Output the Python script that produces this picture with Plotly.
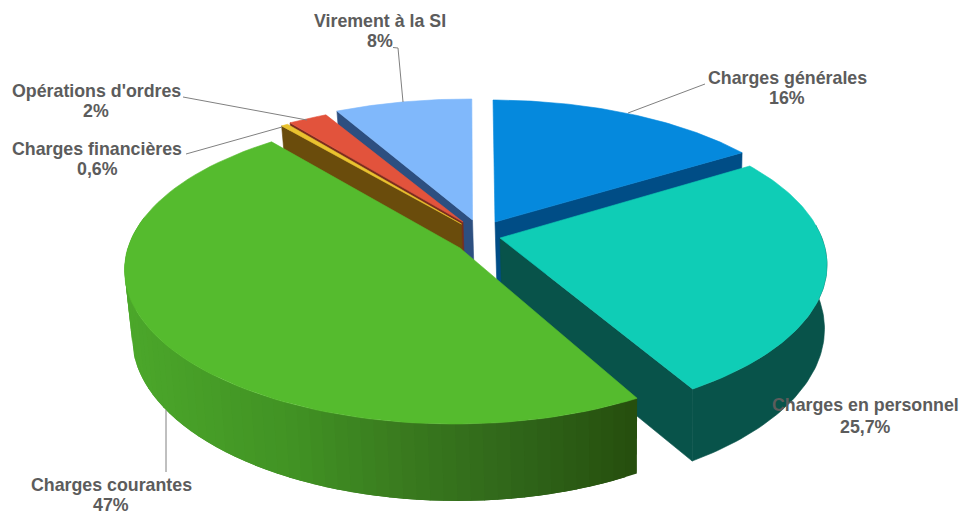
import numpy as np
import plotly.graph_objects as go

# ---- chart data ----
categories = ["Charges générales", "Charges en personnel", "Charges courantes",
              "Charges financières", "Opérations d'ordres", "Virement à la SI"]
values = [16, 25.7, 47, 0.6, 2, 8]
value_labels = ["16%", "25,7%", "47%", "0,6%", "2%", "8%"]

# ---- colours ----
top_colors = ["#0589dd", "#0fcdb6", "#55bb2e", "#e9c32f", "#e2533c", "#80b8fb"]
wall_colors = ["#004d86", "#08534a", "#3f8a22", "#6a4c0c", "#7b2d1e", "#2d4f80"]
label_color = "#5c5c5c"
leader_color = "#808080"
green_stops_x = [125, 300, 400, 520, 637]
green_stops_rgb = [(76, 168, 43), (65, 146, 36), (58, 124, 31), (48, 102, 26), (38, 79, 14)]

# ---- 3D look: one tilted frame for each exploded slice (pixels) ----
RX, RX_BOTTOM = 330, 325
ell_cx = [491, 497, 454.5, 456.5, 457, 468.5]
ell_cy = [250, 265, 270, 248, 247, 245]
ell_ry = [150, 154, 154, 144, 144, 146]
apex_x = [495, 500, 460, 461.5, 463, 472.5]
apex_y = [222, 238, 248, 224, 222, 220]
start_deg = [0.35, 50, 146.4, 328.0, 329.6, 336.5]
span_scale = [0.848, 1.005, 1.056, 0.55, 0.965, 0.83]
DX_BOTTOM, DY_BOTTOM = 2.5, 65
RY_RATIO = 164 / 154

shares = np.array(values) / sum(values) * 360.0


def rim(i, phi_deg, bottom=False):
    p = np.radians(phi_deg)
    if bottom:
        cy_shift = DY_BOTTOM if i != 1 else 64
        return (ell_cx[i] + DX_BOTTOM + RX_BOTTOM * np.sin(p),
                ell_cy[i] + cy_shift + 2 * (i == 2) - ell_ry[i] * RY_RATIO * np.cos(p))
    return ell_cx[i] + RX * np.sin(p), ell_cy[i] - ell_ry[i] * np.cos(p)


def arc(i):
    return np.linspace(start_deg[i], start_deg[i] + shares[i] * span_scale[i], 90)


fig = go.Figure()


def poly(xs, ys, color, width=0.6):
    fig.add_trace(go.Scatter(x=list(xs) + [xs[0]], y=list(ys) + [ys[0]], mode="lines",
                             fill="toself", fillcolor=color,
                             line=dict(color=color, width=width),
                             hoverinfo="skip", showlegend=False))


def top_face(i):
    x, y = rim(i, arc(i))
    poly(np.r_[apex_x[i], x], np.r_[apex_y[i], y], top_colors[i])


def cut_wall(i, phi):
    xt, yt = rim(i, phi)
    xb, yb = rim(i, phi, bottom=True)
    poly([apex_x[i], xt, xb, apex_x[i] + 2], [apex_y[i], yt, yb, apex_y[i] + 68], wall_colors[i])


# Virement à la SI (back)
cut_wall(5, start_deg[5])
top_face(5)
# Opérations d'ordres
cut_wall(4, start_deg[4])
top_face(4)
# Charges financières
cut_wall(3, start_deg[3])
top_face(3)
# Charges générales
cut_wall(0, arc(0)[-1])
top_face(0)
# Charges en personnel
phi = np.linspace(75, arc(1)[-1], 60)
xt, yt = rim(1, phi)
xb, yb = rim(1, phi, bottom=True)
poly(np.r_[xt, xb[::-1]], np.r_[yt, yb[::-1]], wall_colors[1])
cut_wall(1, arc(1)[-1])
top_face(1)
# Charges courantes (front): shaded outer wall drawn in overlapping narrow strips, right to left
edges = np.linspace(start_deg[2], 290, 61)
for a0, a1 in zip(edges[:-1], edges[1:]):
    seg = np.linspace(a0, min(a1 + 2.5, 290), 5)
    xt, yt = rim(2, seg)
    xb, yb = rim(2, seg, bottom=True)
    xm = float(np.mean(np.r_[xt[:2], xb[:2]]))
    rgb = [np.interp(xm, green_stops_x, [c[k] for c in green_stops_rgb]) for k in range(3)]
    poly(np.r_[xt, xb[::-1]], np.r_[yt, yb[::-1]], "rgb(%d,%d,%d)" % tuple(rgb), width=0)
top_face(2)

# ---- leader lines ----
leaders = [((705, 84), (628, 113)),
           ((398, 48), (403, 102)),
           ((183, 97), (307, 120)),
           ((186, 154), (282, 127)),
           ((166, 410), (166, 472))]
for (x0, y0), (x1, y1) in leaders:
    fig.add_trace(go.Scatter(x=[x0, x1], y=[y0, y1], mode="lines",
                             line=dict(color=leader_color, width=1),
                             hoverinfo="skip", showlegend=False))
fig.add_trace(go.Scatter(x=[393, 398], y=[47.5, 48], mode="lines",
                         line=dict(color=leader_color, width=1),
                         hoverinfo="skip", showlegend=False))

# ---- labels (name line and value line placed separately) ----
label_x = [787, 865, 111, 97, 96, 380]
name_y = [78, 405, 485, 149, 91, 21]
value_y = [98, 427, 505, 169, 111, 41]
for name, val, lx, ny, vy in zip(categories, value_labels, label_x, name_y, value_y):
    for txt, ly in ((name, ny), (val, vy)):
        fig.add_annotation(x=lx, y=ly, text="<b>%s</b>" % txt, showarrow=False,
                           xanchor="center", yanchor="middle", align="center",
                           font=dict(family="Liberation Sans, Arial, sans-serif", size=17.8, color=label_color))

fig.update_layout(width=960, height=512, margin=dict(l=0, r=0, t=0, b=0),
                  paper_bgcolor="white", plot_bgcolor="white", showlegend=False,
                  xaxis=dict(range=[0, 960], visible=False, fixedrange=True),
                  yaxis=dict(range=[512, 0], visible=False, fixedrange=True))
fig.write_html("out.html", config={"displayModeBar": False},
               post_script="document.body.style.margin='0';document.documentElement.style.overflow='hidden';")
